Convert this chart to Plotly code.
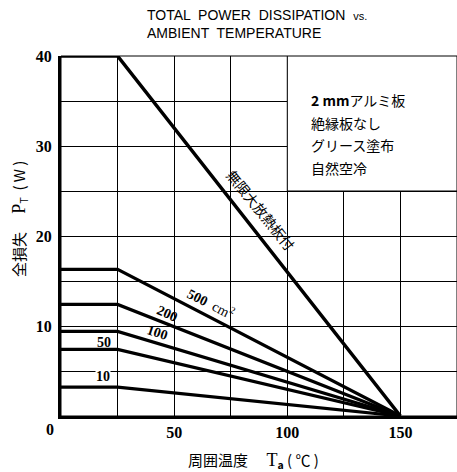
import plotly.graph_objects as go

# ---- data ----
ta = [0, 25, 150]                       # ambient temperature knee points (°C)
p_inf = [40, 40, 0]                     # infinite heatsink
p_500 = [16.3, 16.3, 0]
p_200 = [12.4, 12.4, 0]
p_100 = [9.4, 9.4, 0]
p_50 = [7.4, 7.4, 0]
p_10 = [3.2, 3.2, 0]
series = [p_inf, p_500, p_200, p_100, p_50, p_10]
series_widths = [3.5, 3.2, 3.2, 3.2, 3.2, 3.2]

x_ticks = [25, 50, 75, 100, 125, 150, 175]
x_ticktext = ["", "50", "", "100", "", "150", ""]
y_ticks = [5, 10, 15, 20, 25, 30, 35, 40]
y_ticktext = ["", "10", "", "20", "", "30", "", "40"]

title_lines = ["TOTAL  POWER  DISSIPATION  <span style='font-size:11px'>vs.</span>",
               "AMBIENT  TEMPERATURE"]
note_lines = ["<b>2 mm</b>アルミ板", "絶縁板なし", "グリース塗布", "自然空冷"]

SERIF = "Liberation Serif"
JP = "Noto Sans CJK JP"

# plot-area geometry (pixels)
L, T, W, H = 61, 56, 396, 360


def px(xp):
    return (xp - L) / W


def py(yp):
    return (T + H - yp) / H


def bold(labels):
    return [f"<b>{t}</b>" if t else "" for t in labels]


fig = go.Figure()
for s, w in zip(series, series_widths):
    fig.add_trace(go.Scatter(x=ta, y=s, mode="lines",
                             line=dict(color="black", width=w),
                             showlegend=False, hoverinfo="skip"))

fig.update_layout(
    width=457, height=472,
    margin=dict(l=L, r=457 - L - W, t=T, b=472 - T - H, autoexpand=False),
    paper_bgcolor="white", plot_bgcolor="white",
    xaxis=dict(range=[0, 175], tickvals=x_ticks, ticktext=bold(x_ticktext),
               showgrid=True, gridcolor="black", gridwidth=1,
               showline=True, linecolor="black", linewidth=3,
               ticks="", zeroline=False, automargin=False,
               tickfont=dict(family=SERIF, size=16, color="black")),
    yaxis=dict(range=[0, 40], tickvals=y_ticks, ticktext=bold(y_ticktext),
               showgrid=True, gridcolor="black", gridwidth=1,
               showline=True, linecolor="black", linewidth=3,
               ticks="", zeroline=False, automargin=False,
               ticklabelstandoff=3,
               tickfont=dict(family=SERIF, size=16, color="black")),
)

shapes = [
    dict(type="rect", xref="paper", yref="paper", x0=0, x1=1, y0=0, y1=1,
         line=dict(color="black", width=1), layer="above"),
    dict(type="rect", xref="x", yref="y", x0=100, x1=175, y0=25, y1=40,
         fillcolor="white", line=dict(color="black", width=1), layer="above"),
]
fig.update_layout(shapes=shapes)

ann = []
ann.append(dict(xref="paper", yref="paper", x=px(145), y=py(5),
                xanchor="left", yanchor="top", showarrow=False,
                align="left", text="<br>".join(title_lines),
                font=dict(family="Liberation Sans", size=14, color="black")))
for i, line in enumerate(note_lines):
    ann.append(dict(xref="paper", yref="paper", x=px(309), y=py(100 + 22.7 * i),
                    xanchor="left", yanchor="middle", showarrow=False, text=line,
                    font=dict(family=JP, size=14, color="black")))
ann.append(dict(xref="paper", yref="paper", x=px(50), y=py(429),
                xanchor="center", yanchor="middle", showarrow=False, text="<b>0</b>",
                font=dict(family=SERIF, size=16, color="black")))
ann.append(dict(xref="paper", yref="paper", x=px(253), y=py(460),
                xanchor="center", yanchor="middle", showarrow=False,
                text="周囲温度　 <span style='font-family:Liberation Serif;font-size:18px'>T</span>"
                     "<sub><b>a</b></sub> ( ℃ )",
                font=dict(family=JP, size=15, color="black")))
ann.append(dict(xref="paper", yref="paper", x=px(20), y=py(219),
                xanchor="center", yanchor="middle", showarrow=False, textangle=-90,
                text="全損失　 <span style='font-family:Liberation Serif;font-size:18px'>P</span>"
                     "<sub>T</sub>  ( W )",
                font=dict(family=JP, size=15, color="black")))

# curve labels: (pixel centre x, pixel centre y, angle, text, font, white background)
curve_labels = [
    (261, 210, 51, "無限大放熱板付", JP, False),
    (211, 303, 27, "<b>500</b>  cm<sup>2</sup>", SERIF, False),
    (167, 313, 24, "<b>200</b>", SERIF, False),
    (157, 332, 18, "<b>100</b>", SERIF, False),
    (103.5, 342, 0, "<b>50</b>", SERIF, False),
    (103, 376, 0, "<b>10</b>", SERIF, True),
]
for cx, cy, ang, txt, fam, bg in curve_labels:
    ann.append(dict(xref="paper", yref="paper", x=px(cx), y=py(cy),
                    xanchor="center", yanchor="middle", showarrow=False,
                    textangle=ang, text=txt, borderpad=0,
                    bgcolor="white" if bg else "rgba(0,0,0,0)",
                    font=dict(family=fam, size=14, color="black")))
fig.update_layout(annotations=ann)

fig.write_html("out.html", config={"displayModeBar": False},
               post_script="document.body.style.margin='0';document.body.style.padding='0';")
